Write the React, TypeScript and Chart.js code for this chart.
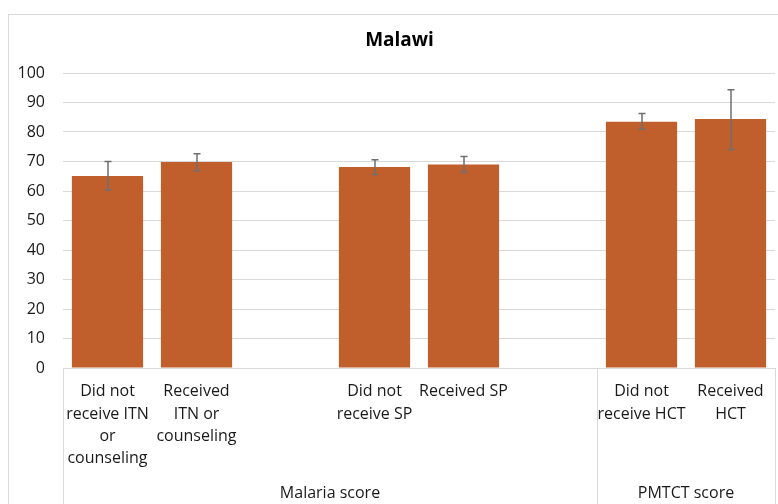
import React, { useEffect, useRef } from "react";
import { Chart, registerables } from "chart.js";

Chart.register(...registerables);

const categories: (string | string[])[] = [
  ["Did not", "receive ITN", "or", "counseling"],
  ["Received", "ITN or", "counseling"],
  "",
  ["Did not", "receive SP"],
  ["Received SP"],
  "",
  ["Did not", "receive HCT"],
  ["Received", "HCT"],
];
const scores: (number | null)[] = [65.1, 69.8, null, 68.1, 69.0, null, 83.5, 84.4];
const errLow: (number | null)[] = [60.3, 66.9, null, 65.6, 66.3, null, 80.9, 74.1];
const errHigh: (number | null)[] = [70.0, 72.6, null, 70.6, 71.7, null, 86.3, 94.3];
const groupNames: string[] = ["Malaria score", "PMTCT score"];
const groupSpans: [number, number][] = [
  [0, 5],
  [6, 7],
];
const yTicks = { min: 0, max: 100, step: 10 };
const titleText = "Malawi";

const FONT = "'Open Sans', sans-serif";
const TEXT = "#1a1a1a";
const GRID = "#d9d9d9";
const BAR = "#c05f2c";

const overlayPlugin = {
  id: "overlay",
  afterDatasetsDraw(chart: any) {
    const ctx = chart.ctx;
    const y = chart.scales.y;
    const meta = chart.getDatasetMeta(0);
    ctx.save();
    ctx.strokeStyle = "#6f6f6f";
    ctx.lineWidth = 1.5;
    scores.forEach((v, i) => {
      if (v === null) return;
      const lo = errLow[i];
      const hi = errHigh[i];
      if (lo === null || hi === null) return;
      const x = Math.round(meta.data[i].x);
      const yt = y.getPixelForValue(hi);
      const yb = y.getPixelForValue(lo);
      ctx.beginPath();
      ctx.moveTo(x, yt);
      ctx.lineTo(x, yb);
      ctx.moveTo(x - 3.5, yt);
      ctx.lineTo(x + 3.5, yt);
      ctx.moveTo(x - 3.5, yb);
      ctx.lineTo(x + 3.5, yb);
      ctx.stroke();
    });
    ctx.restore();
  },
  afterDraw(chart: any) {
    const ctx = chart.ctx;
    const xs = chart.scales.x;
    const bottom = chart.chartArea.bottom;
    const H = chart.height;
    ctx.save();
    // title, centred on the whole chart box
    ctx.fillStyle = "#000";
    ctx.font = `bold 19px ${FONT}`;
    ctx.textAlign = "center";
    ctx.textBaseline = "middle";
    ctx.fillText(titleText, chart.width / 2, 26);
    // group separators
    ctx.strokeStyle = GRID;
    ctx.lineWidth = 1;
    const bounds = new Set<number>();
    groupSpans.forEach(([a, b]) => {
      bounds.add(a - 0.5);
      bounds.add(b + 0.5);
    });
    bounds.forEach((b) => {
      const px = Math.round(xs.getPixelForValue(b)) + 0.5;
      ctx.beginPath();
      ctx.moveTo(px, bottom);
      ctx.lineTo(px, H);
      ctx.stroke();
    });
    ctx.fillStyle = TEXT;
    ctx.font = `16px ${FONT}`;
    groupSpans.forEach(([a, b], gi) => {
      const cx = (xs.getPixelForValue(a - 0.5) + xs.getPixelForValue(b + 0.5)) / 2;
      ctx.fillText(groupNames[gi], cx, bottom + 125);
    });
    ctx.restore();
  },
};

export default function App() {
  const ref = useRef<HTMLCanvasElement | null>(null);
  useEffect(() => {
    if (!ref.current) return;
    const chart = new Chart(ref.current, {
      type: "bar",
      data: {
        labels: categories as any,
        datasets: [
          {
            data: scores as any,
            backgroundColor: BAR,
            borderWidth: 0,
            barPercentage: 0.8,
            categoryPercentage: 1,
          },
        ],
      },
      options: {
        responsive: false,
        animation: false,
        devicePixelRatio: 1,
        layout: { padding: { left: 0, right: 15, top: 58, bottom: 0 } },
        plugins: {
          legend: { display: false },
          tooltip: { enabled: false },
          title: { display: false },
        },
        scales: {
          y: {
            min: yTicks.min,
            max: yTicks.max,
            ticks: {
              stepSize: yTicks.step,
              color: TEXT,
              font: { family: FONT, size: 16 },
              padding: 18,
            },
            grid: { color: GRID, drawTicks: false, lineWidth: 1 },
            border: { display: false },
            afterFit(scale: any) {
              scale.width = 54;
            },
          },
          x: {
            ticks: {
              color: TEXT,
              font: { family: FONT, size: 16, lineHeight: 1.4 },
              padding: 12.5,
              autoSkip: false,
              maxRotation: 0,
              minRotation: 0,
            },
            grid: { display: false, drawTicks: false },
            border: { display: true, color: GRID, width: 1 },
            afterFit(scale: any) {
              scale.height = 147;
            },
          },
        },
      },
      plugins: [overlayPlugin],
    });
    return () => chart.destroy();
  }, []);

  return (
    <div
      style={{
        position: "fixed",
        left: 0,
        top: 0,
        width: 778,
        height: 504,
        overflow: "hidden",
        background: "#fff",
      }}
    >
      <div
        style={{
          position: "absolute",
          left: 8,
          top: 14,
          width: 782,
          height: 520,
          border: `1px solid ${GRID}`,
          boxSizing: "border-box",
        }}
      >
        <canvas ref={ref} width={781} height={500} style={{ display: "block", width: 781, height: 500 }} />
      </div>
    </div>
  );
}
